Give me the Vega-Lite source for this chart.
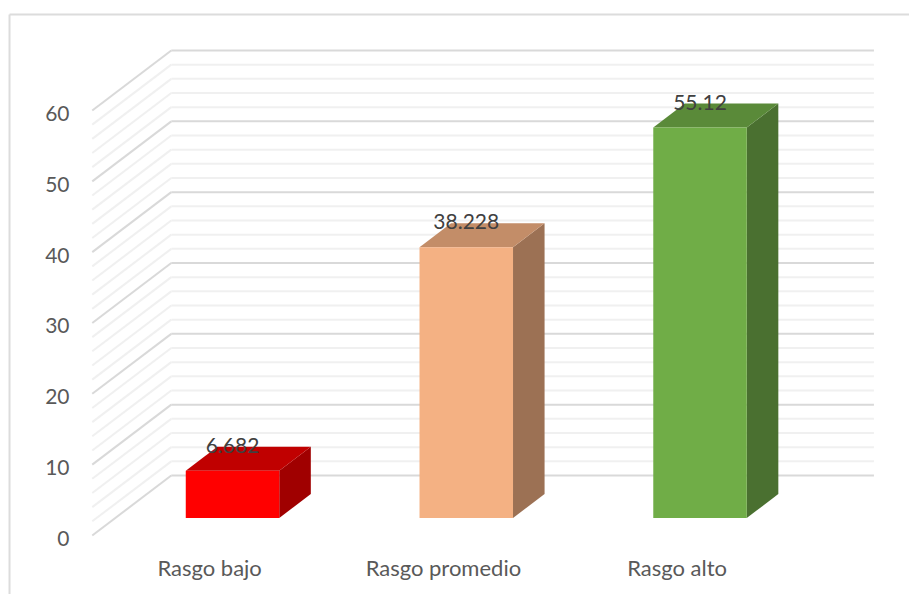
{
"$schema":"https://vega.github.io/schema/vega-lite/v6.json",
"width":909,"height":594,"padding":0,"autosize":{"type":"none"},
"background":"white",
"view":{"stroke":null},
"config":{"font":"Lato"},
"resolve":{"scale":{"color":"independent"}},
"datasets":{
"bars":[{"category":"Rasgo bajo","value":6.682},{"category":"Rasgo promedio","value":38.228},{"category":"Rasgo alto","value":55.12}],
"ticks":[{"tick":0},{"tick":2},{"tick":4},{"tick":6},{"tick":8},{"tick":10},{"tick":12},{"tick":14},{"tick":16},{"tick":18},{"tick":20},{"tick":22},{"tick":24},{"tick":26},{"tick":28},{"tick":30},{"tick":32},{"tick":34},{"tick":36},{"tick":38},{"tick":40},{"tick":42},{"tick":44},{"tick":46},{"tick":48},{"tick":50},{"tick":52},{"tick":54},{"tick":56},{"tick":58},{"tick":60}]
},
"encoding":{
"x":{"field":"x","type":"quantitative","title":null,"scale":{"domain":[-0.9947,2.894],"nice":false,"zero":false},
"axis":{"values":[-0.1,0.9,1.9],"orient":"bottom","offset":-26,"domain":false,"ticks":false,"grid":false,"labelPadding":0,"labelFontSize":22,"labelColor":"#595959","labelBaseline":"middle","labelFlush":false,"labelOverlap":false,"labelExpr":"datum.value<0?'Rasgo bajo':datum.value<1?'Rasgo promedio':'Rasgo alto'"}},
"y":{"field":"y","type":"quantitative","title":null,"scale":{"domain":[-8.26,75.6],"nice":false,"zero":false},
"axis":{"values":[0,10,20,30,40,50,60],"orient":"left","offset":-69,"domain":false,"ticks":false,"grid":false,"labelPadding":0,"labelFontSize":21,"labelOffset":4,"labelColor":"#595959","labelFlush":false,"labelOverlap":false}}
},
"layer":[
{"data":{"name":"ticks"},
"transform":[{"calculate":"-0.6","as":"x"},{"calculate":"-0.262","as":"x2"},{"calculate":"datum.tick","as":"y"},{"calculate":"datum.tick+8.47","as":"y2"}],
"mark":{"type":"rule"},
"encoding":{"x2":{"field":"x2"},"y2":{"field":"y2"},"color":{"condition":{"test":"datum.tick%10==0","value":"#d9d9d9"},"value":"#f0f0f0"},"strokeWidth":{"value":2}}},
{"data":{"name":"ticks"},
"transform":[{"calculate":"-0.262","as":"x"},{"calculate":"2.744","as":"x2"},{"calculate":"datum.tick+8.47","as":"y"}],
"mark":{"type":"rule"},
"encoding":{"x2":{"field":"x2"},"color":{"condition":{"test":"datum.tick%10==0","value":"#d9d9d9"},"value":"#f0f0f0"},"strokeWidth":{"value":2}}},
{"data":{"values":[{"edge":"left"}]},
"transform":[{"calculate":"-0.954","as":"x"},{"calculate":"73.56","as":"y"},{"calculate":"-8.26","as":"y2"}],
"mark":{"type":"rule","color":"#dcdcdc","strokeWidth":2},
"encoding":{"y2":{"field":"y2"}}},
{"data":{"values":[{"edge":"top"}]},
"transform":[{"calculate":"-0.954","as":"x"},{"calculate":"2.894","as":"x2"},{"calculate":"73.56","as":"y"}],
"mark":{"type":"rule","color":"#dcdcdc","strokeWidth":2},
"encoding":{"x2":{"field":"x2"}}},
{"data":{"name":"bars"},
"transform":[{"calculate":"indexof(['Rasgo bajo','Rasgo promedio','Rasgo alto'],datum.category)","as":"idx"},{"calculate":"[0,1]","as":"t"},{"flatten":["t"]},
{"calculate":"datum.idx+0.2+datum.t*0.135","as":"x"},{"calculate":"2.47+datum.t*3.39","as":"y"},{"calculate":"datum.value+2.47+datum.t*3.39","as":"y2"}],
"mark":{"type":"area","orient":"vertical"},
"encoding":{"y2":{"field":"y2"},"detail":{"field":"category"},"color":{"field":"category","type":"nominal","legend":null,"scale":{"domain":["Rasgo bajo","Rasgo promedio","Rasgo alto"],"range":["#a00000","#9c7154","#4a7030"]}}}},
{"data":{"name":"bars"},
"transform":[{"calculate":"indexof(['Rasgo bajo','Rasgo promedio','Rasgo alto'],datum.category)","as":"idx"},{"calculate":"[0,1,2,3]","as":"t"},{"flatten":["t"]},
{"calculate":"datum.idx+[-0.2,-0.065,0.2,0.335][datum.t]","as":"x"},{"calculate":"datum.value+2.47+(datum.t==3?3.39:0)","as":"y"},{"calculate":"datum.value+2.47+(datum.t==0?0:3.39)","as":"y2"}],
"mark":{"type":"area","orient":"vertical"},
"encoding":{"y2":{"field":"y2"},"detail":{"field":"category"},"color":{"field":"category","type":"nominal","legend":null,"scale":{"domain":["Rasgo bajo","Rasgo promedio","Rasgo alto"],"range":["#c00000","#c38d68","#5a8a39"]}}}},
{"data":{"name":"bars"},
"transform":[{"calculate":"indexof(['Rasgo bajo','Rasgo promedio','Rasgo alto'],datum.category)","as":"idx"},
{"calculate":"datum.idx-0.2","as":"x"},{"calculate":"datum.idx+0.2","as":"x2"},{"calculate":"2.47","as":"y"},{"calculate":"datum.value+2.47","as":"y2"}],
"mark":{"type":"rect"},
"encoding":{"x2":{"field":"x2"},"y2":{"field":"y2"},"fill":{"field":"category","type":"nominal","legend":null,"scale":{"domain":["Rasgo bajo","Rasgo promedio","Rasgo alto"],"range":["#ff0000","#f4b183","#70ad47"]}}}},
{"data":{"name":"bars"},
"transform":[{"calculate":"indexof(['Rasgo bajo','Rasgo promedio','Rasgo alto'],datum.category)","as":"idx"},
{"calculate":"datum.idx","as":"x"},{"calculate":"datum.value+5.86","as":"y"}],
"mark":{"type":"text","fontSize":21,"color":"#404040","baseline":"middle","align":"center"},
"encoding":{"text":{"field":"value","type":"quantitative","format":".5~f"}}}
]
}
